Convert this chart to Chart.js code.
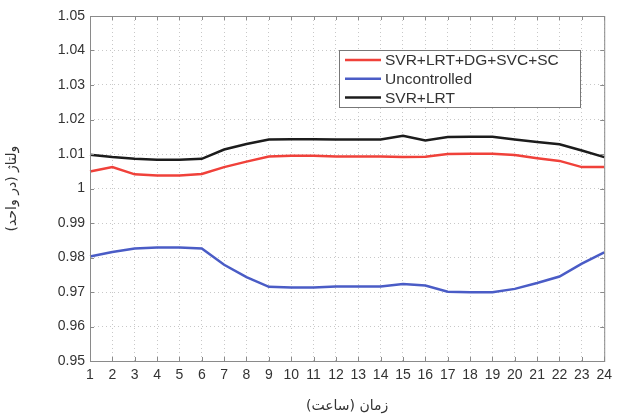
<!DOCTYPE html>
<html>
<head>
<meta charset="utf-8">
<script src="https://cdn.jsdelivr.net/npm/chart.js@4.4.0/dist/chart.umd.min.js"></script>
<style>
  body { margin: 0; background: #fff; }
  #wrap { width: 618px; height: 419px; }
</style>
</head>
<body>
<div id="wrap"><canvas id="chart" width="618" height="419"></canvas></div>
<script>
// hours 1..24
const hours = [1, 2, 3, 4, 5, 6, 7, 8, 9, 10, 11, 12, 13, 14, 15, 16, 17, 18, 19, 20, 21, 22, 23, 24];

// voltage (p.u.) per series
const fullControl = [1.0049, 1.0062, 1.0041, 1.0038, 1.0038, 1.0042, 1.0062, 1.0078, 1.0093, 1.0095, 1.0095, 1.0093,
                     1.0093, 1.0093, 1.0091, 1.0092, 1.0100, 1.0101, 1.0101, 1.0097, 1.0088, 1.0080, 1.0062, 1.0062];
const uncontrolled = [0.9803, 0.9816, 0.9826, 0.9829, 0.9829, 0.9826, 0.9779, 0.9743, 0.9715, 0.9713, 0.9713, 0.9716,
                      0.9716, 0.9716, 0.9723, 0.9719, 0.9701, 0.9699, 0.9699, 0.9709, 0.9726, 0.9745, 0.9782, 0.9815];
const svrLrt = [1.0098, 1.0091, 1.0086, 1.0083, 1.0083, 1.0086, 1.0113, 1.0129, 1.0142, 1.0143, 1.0143, 1.0142,
                1.0142, 1.0142, 1.0153, 1.0139, 1.0149, 1.0150, 1.0150, 1.0142, 1.0135, 1.0128, 1.0110, 1.0091];

const seriesNames = ['SVR+LRT+DG+SVC+SC', 'Uncontrolled', 'SVR+LRT'];
const xTitle = 'زمان (ساعت)';
const yTitle = 'ولتاژ (در واحد)';

const tickFont = { family: 'Liberation Sans, Arial, sans-serif', size: 14 };

// box around the plot + inner tick marks like matlab
const frame = {
    id: 'frame',
    afterDraw(chart) {
        const c = chart.ctx;
        const a = chart.chartArea;
        const xs = chart.scales.x, ys = chart.scales.y;
        c.save();
        c.strokeStyle = '#8a8a8a';
        c.lineWidth = 1;
        c.strokeRect(a.left + 0.5, a.top + 0.5, a.right - a.left, a.bottom - a.top);
        c.beginPath();
        hours.forEach(function(h, i) {
            const px = Math.round(xs.getPixelForValue(i)) + 0.5;
            c.moveTo(px, a.bottom); c.lineTo(px, a.bottom - 4);
            c.moveTo(px, a.top); c.lineTo(px, a.top + 4);
        });
        ys.ticks.forEach(function(t) {
            const py = Math.round(ys.getPixelForValue(t.value)) + 0.5;
            c.moveTo(a.left, py); c.lineTo(a.left + 4, py);
            c.moveTo(a.right, py); c.lineTo(a.right - 4, py);
        });
        c.stroke();

        // legend box
        const bx = a.left + 249, by = a.top + 34, bw = 241, bh = 57;
        c.fillStyle = '#fff';
        c.fillRect(bx, by, bw, bh);
        c.strokeStyle = '#777';
        c.strokeRect(bx + 0.5, by + 0.5, bw, bh);
        c.font = '15.5px Liberation Sans, Arial, sans-serif';
        c.textBaseline = 'middle';
        chart.data.datasets.forEach(function(ds, i) {
            const ly = by + 10 + i * 18.8;
            c.strokeStyle = ds.borderColor;
            c.lineWidth = 2.5;
            c.beginPath();
            c.moveTo(bx + 6, ly); c.lineTo(bx + 42, ly);
            c.stroke();
            c.fillStyle = '#333';
            c.fillText(ds.label, bx + 46, ly + 1);
        });
        c.restore();
    }
};

new Chart(document.getElementById('chart').getContext('2d'), {
    type: 'line',
    data: {
        labels: hours,
        datasets: [
            { label: seriesNames[0], data: fullControl, borderColor: '#f0413a' },
            { label: seriesNames[1], data: uncontrolled, borderColor: '#4a5cc6' },
            { label: seriesNames[2], data: svrLrt, borderColor: '#1c1c1c' }
        ]
    },
    options: {
        responsive: false,
        animation: false,
        elements: {
            line: { borderWidth: 2.5, tension: 0 },
            point: { radius: 0 }
        },
        layout: { padding: { top: 16, right: 10, left: 0, bottom: 0 } },
        plugins: {
            legend: { display: false },
            tooltip: { enabled: false }
        },
        scales: {
            x: {
                offset: false,
                grid: { color: '#c8c8c8', drawTicks: false },
                border: { display: false, dash: [1, 3] },
                ticks: { font: tickFont, color: '#333', padding: 6, maxRotation: 0, autoSkip: false },
                title: { display: true, text: xTitle, font: { family: 'DejaVu Sans', size: 14 }, color: '#333', padding: { top: 14 } },
                afterFit: function(s) { s.height = 58; }
            },
            y: {
                min: 0.95,
                max: 1.05,
                grid: { color: '#c8c8c8', drawTicks: false },
                border: { display: false, dash: [1, 3] },
                ticks: {
                    stepSize: 0.01,
                    font: tickFont,
                    color: '#333',
                    padding: 5,
                    callback: function(v) { return String(Number(v.toFixed(2))); }
                },
                title: { display: true, text: yTitle, font: { family: 'DejaVu Sans', size: 14 }, color: '#333', padding: { bottom: 10 } },
                afterFit: function(s) { s.width = 90; }
            }
        }
    },
    plugins: [frame]
});
</script>
</body>
</html>
